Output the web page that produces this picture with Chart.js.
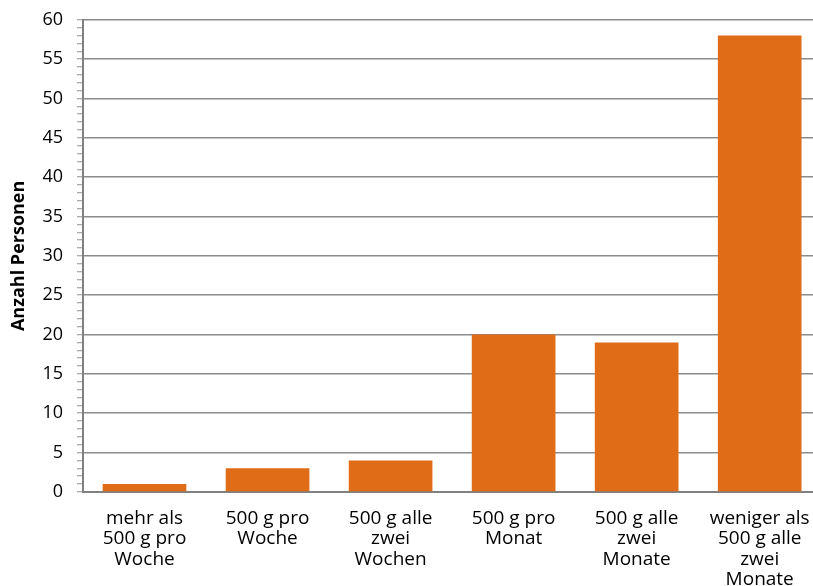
<!DOCTYPE html>
<html><head><meta charset="utf-8">
<script src="https://cdn.jsdelivr.net/npm/chart.js@4"></script>
<style>
html,body{margin:0;padding:0;background:#fff;}
#wrap{position:relative;width:813px;height:586px;overflow:hidden;}
#c{position:absolute;left:0;top:-5px;display:block;}
</style></head>
<body>
<div id="wrap"><canvas id="c" width="826" height="611"></canvas></div>
<script>
const categories = [
  ["mehr als","500 g pro","Woche"],
  ["500 g pro","Woche"],
  ["500 g alle","zwei","Wochen"],
  ["500 g pro","Monat"],
  ["500 g alle","zwei","Monate"],
  ["weniger als","500 g alle","zwei","Monate"]
];
const personen = [1, 3, 4, 20, 19, 58];
const yTitle = "Anzahl Personen";
const FONT = "'Open Sans','DejaVu Sans',sans-serif";

new Chart(document.getElementById('c'), {
  type: 'bar',
  data: {
    labels: categories,
    datasets: [{
      data: personen,
      backgroundColor: '#E06C17',
      borderColor: '#E06C17',
      borderWidth: 0,
      barPercentage: 0.68,
      categoryPercentage: 1
    }]
  },
  options: {
    responsive: false,
    animation: false,
    layout: { padding: { top: 0, right: 4, left: 0, bottom: 0 } },
    plugins: { legend: { display: false }, tooltip: { enabled: false }, title: { display: false } },
    scales: {
      x: {
        grid: { display: false, drawTicks: false },
        border: { display: true, color: '#808080', width: 2 },
        ticks: {
          color: '#000', padding: 16, maxRotation: 0, autoSkip: false,
          font: { family: FONT, size: 19, lineHeight: 1.08 }
        }
      },
      y: {
        min: 0, max: 60,
        afterFit: (s) => { s.width = 83; },
        border: { display: true, color: '#808080', width: 2 },
        grid: {
          color: (ctx) => (ctx.tick && ctx.tick.value % 5 === 0) ? '#8c8c8c' : 'rgba(0,0,0,0)',
          lineWidth: 1.5,
          tickColor: '#909090',
          tickLength: 6,
          tickWidth: 1
        },
        ticks: {
          stepSize: 1,
          autoSkip: false,
          maxTicksLimit: 100,
          color: '#000',
          padding: 14,
          font: { family: FONT, size: 18 },
          callback: (v) => (v % 5 === 0 ? String(v) : '')
        },
        title: {
          display: true,
          text: yTitle,
          color: '#000',
          padding: { top: 8, bottom: 0 },
          font: { family: FONT, size: 18, weight: 'bold' }
        }
      }
    }
  }
});
</script>
</body></html>
